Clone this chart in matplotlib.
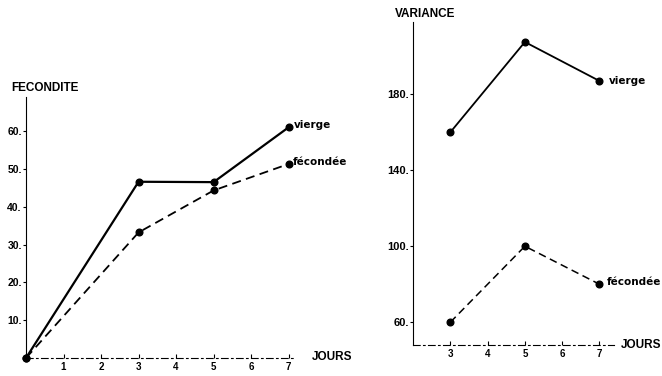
import matplotlib
matplotlib.use("Agg")
import matplotlib.pyplot as plt

plt.rcParams["font.family"] = ["Liberation Sans", "DejaVu Sans"]
plt.rcParams["font.weight"] = "bold"

# Fecondite (left)
jours_f = [0, 3, 5, 7]
fec_vierge = [0, 46.6, 46.5, 61]
fec_fecondee = [0, 33.2, 44.3, 51.3]
fec_xticks = [1, 2, 3, 4, 5, 6, 7]
fec_yticks = [10, 20, 30, 40, 50, 60]

# Variance (right)
jours_v = [3, 5, 7]
var_vierge = [160, 207.5, 187]
var_fecondee = [60, 100, 80]
var_xticks = [3, 4, 5, 6, 7]
var_yticks = [60, 100, 140, 180]

fig = plt.figure(figsize=(6.62, 3.76), dpi=100)

ax1 = fig.add_axes([0.0393, 0.0479, 0.408, 0.694])
ax2 = fig.add_axes([0.624, 0.0824, 0.304, 0.859])

lab_font = dict(family="DejaVu Sans", fontsize=7.5, fontweight="bold", va="center")


def style(ax, ysize):
    for s in ["top", "right"]:
        ax.spines[s].set_visible(False)
    ax.spines["left"].set_linewidth(0.8)
    ax.spines["bottom"].set_linewidth(0.8)
    ax.spines["bottom"].set_linestyle((0, (6, 3, 1.5, 3)))
    ax.tick_params(axis="y", direction="out", length=2, width=0.8, labelsize=ysize, pad=1)
    ax.tick_params(axis="x", direction="in", length=3, width=0.8, labelsize=7, pad=3)
    for lab in ax.get_xticklabels() + ax.get_yticklabels():
        lab.set_fontweight("bold")


ax1.plot(jours_f, fec_vierge, color="black", lw=1.6, marker="o", ms=4.8, clip_on=False)
ax1.plot(jours_f, fec_fecondee, color="black", lw=1.3, ls=(0, (5, 3)), marker="o", ms=4.8, clip_on=False)
ax1.set_xlim(0, 7.2)
ax1.set_ylim(0, 69)
ax1.set_xticks(fec_xticks)
ax1.set_yticks(fec_yticks)
ax1.set_yticklabels([f"{v}." for v in fec_yticks])
style(ax1, 7.5)
ax1.text(7.15, fec_vierge[-1] + 0.5, "vierge", **lab_font)
ax1.text(7.12, fec_fecondee[-1] + 0.5, "fécondée", **lab_font)
fig.text(11 / 662, 1 - 88 / 376, "FECONDITE", fontsize=8.5, fontweight="bold", va="center")
fig.text(312 / 662, 1 - 357 / 376, "JOURS", fontsize=8.5, fontweight="bold", va="center")

ax2.plot(jours_v, var_vierge, color="black", lw=1.3, marker="o", ms=4.8, clip_on=False)
ax2.plot(jours_v, var_fecondee, color="black", lw=1.1, ls=(0, (5, 3)), marker="o", ms=4.8, clip_on=False)
ax2.set_xlim(2, 7.4)
ax2.set_ylim(48, 218)
ax2.set_xticks(var_xticks)
ax2.set_yticks(var_yticks)
ax2.set_yticklabels([f"{v}." for v in var_yticks])
style(ax2, 8)
ax2.text(7.25, var_vierge[-1], "vierge", **lab_font)
ax2.text(7.2, var_fecondee[-1] + 1, "fécondée", **lab_font)
fig.text(395 / 662, 1 - 14 / 376, "VARIANCE", fontsize=8.5, fontweight="bold", va="center")
fig.text(621 / 662, 1 - 345 / 376, "JOURS", fontsize=8.5, fontweight="bold", va="center")

fig.savefig("out.png", dpi=100)
